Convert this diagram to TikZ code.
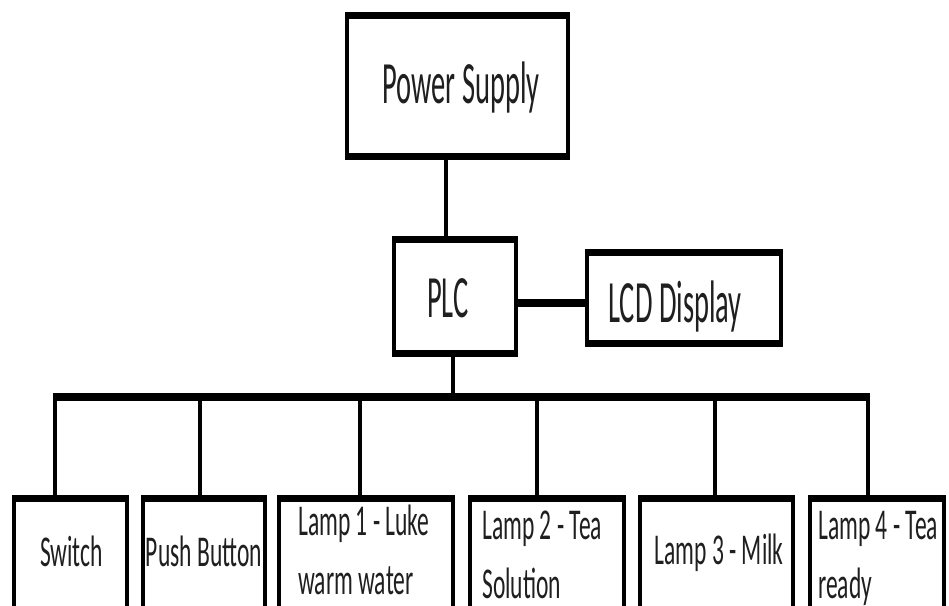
\documentclass[tikz,border=0pt]{standalone}
\usepackage{fontspec}
\usetikzlibrary{fit}
\newfontfamily\topf[FakeStretch=0.475]{Carlito}
\newfontfamily\botf[FakeStretch=0.535]{Carlito}
\tikzset{
  boxn/.style={draw=none, inner sep=0pt, outer sep=0pt, rectangle},
  sideline/.style={line width=4pt, black},
  rimline/.style={line width=7.5pt, black},
  wire/.style={line width=4pt, black},
  fatwire/.style={line width=8pt, black},
  toptxt/.style={font=\topf\fontsize{60}{64}\selectfont, anchor=base, inner sep=0pt, text=black!88},
  bottxt/.style={font=\botf\fontsize{44}{59}\selectfont, inner sep=0pt, align=left, anchor=base west, text=black!88},
  botctr/.style={font=\botf\fontsize{44}{59}\selectfont, inner sep=0pt, anchor=base, text=black!88},
}
\newcommand\sidesof[1]{%
  \draw[sideline] (#1.north west) -- (#1.south west) (#1.north east) -- (#1.south east);
  \draw[rimline] ([xshift=-2pt]#1.north west) -- ([xshift=2pt]#1.north east);}
\newcommand\fullbox[1]{%
  \sidesof{#1}
  \draw[rimline] ([xshift=-2pt]#1.south west) -- ([xshift=2pt]#1.south east);}
\begin{document}
\begin{tikzpicture}[x=1pt,y=-1pt]
\useasboundingbox (0,0) rectangle (949,605);
\fill[white] (0,0) rectangle (949,605);
\clip (0,0) rectangle (949,605);

% boxes (path coordinates)
\node[boxn, fit={(347,15.5) (568,156.5)}] (ps) {};
\node[boxn, fit={(394,239.5) (516,353.5)}] (plc) {};
\node[boxn, fit={(587,252.5) (781,343.5)}] (lcd) {};
\node[boxn, fit={(14,498.5) (127,640)}] (sw) {};
\node[boxn, fit={(143,498.5) (265,640)}] (pb) {};
\node[boxn, fit={(279,498.5) (453,640)}] (l1) {};
\node[boxn, fit={(470,498.5) (624,640)}] (l2) {};
\node[boxn, fit={(640,498.5) (793,640)}] (l3) {};
\node[boxn, fit={(810,498.5) (944,640)}] (l4) {};

\fullbox{ps}
\fullbox{plc}
\fullbox{lcd}
\sidesof{sw}
\sidesof{pb}
\sidesof{l1}
\sidesof{l2}
\sidesof{l3}
\sidesof{l4}

% connectors
\coordinate (c1) at (446,0);
\draw[wire] (c1 |- ps.south) -- (c1 |- plc.north);
\coordinate (c2) at (0,303);
\draw[fatwire] (c2 -| plc.east) -- (c2 -| lcd.west);
\coordinate (c3) at (453,0);
\coordinate (busL) at (53,397);
\coordinate (busR) at (870,397);
\draw[wire] (c3 |- plc.south) -- (c3 |- busL);
\draw[fatwire] (busL) -- (busR);
\foreach \xx/\nn in {55/sw, 200/pb, 360/l1, 537/l2, 715/l3, 868/l4}{
  \coordinate (d-\nn) at (\xx,397);
  \draw[wire] (d-\nn) -- (d-\nn |- \nn.north);
}

% texts
\node[toptxt] (tps) at (461,103) {Power Supply};
\node[toptxt] (tplc) at (448,317) {PLC};
\node[toptxt] (tlcd) at (675,322) {LCD Display};
\node[botctr] (tsw) at (71.5,566) {Switch};
\node[botctr] (tpb) at (204,566) {Push Button};
\node[bottxt] (tl1) at (298,594) {Lamp 1 - Luke\\warm water};
\node[bottxt] (tl2) at (482,598) {Lamp 2 - Tea\\Solution};
\node[botctr] (tl3) at (719,564) {Lamp 3 - Milk};
\node[bottxt] (tl4) at (818,598) {Lamp 4 - Tea\\ready};
\end{tikzpicture}
\end{document}
